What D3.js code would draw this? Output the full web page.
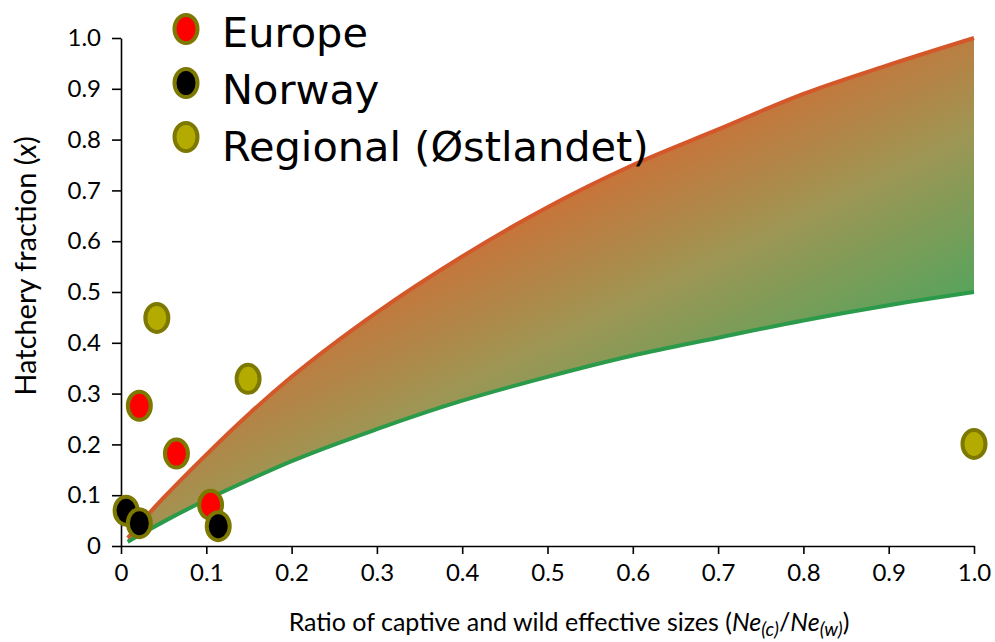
<!DOCTYPE html>
<html><head><meta charset="utf-8">
<script src="https://cdn.jsdelivr.net/npm/d3@7/dist/d3.min.js"></script>
<style>body{margin:0;background:#fff}svg{display:block}</style>
</head><body>
<svg id="c" width="995" height="642"></svg>
<script>
// ratio values sampled along the two boundary curves
const curveRatio = [0.008, 0.02, 0.05, 0.1, 0.15, 0.2, 0.3, 0.4, 0.5, 0.6, 0.7, 0.8, 0.9, 1.0];
const upperFraction = [0.016, 0.04, 0.095, 0.18, 0.26, 0.333, 0.46, 0.57, 0.667, 0.75, 0.82, 0.89, 0.947, 1.0];
const lowerFraction = [0.008, 0.02, 0.048, 0.091, 0.13, 0.167, 0.23, 0.286, 0.333, 0.375, 0.41, 0.444, 0.474, 0.5];

const groups = ["Europe", "Norway", "Regional (Østlandet)"];
const europeRatio = [0.0215, 0.065, 0.105];
const europeFraction = [0.276, 0.182, 0.081];
const norwayRatio = [0.006, 0.0215, 0.114];
const norwayFraction = [0.0695, 0.045, 0.039];
const regionalRatio = [0.042, 0.149, 1.0];
const regionalFraction = [0.449, 0.329, 0.201];

const xTicks = [0, 0.1, 0.2, 0.3, 0.4, 0.5, 0.6, 0.7, 0.8, 0.9, 1.0];
const yTicks = [0, 0.1, 0.2, 0.3, 0.4, 0.5, 0.6, 0.7, 0.8, 0.9, 1.0];
const xTickLabels = ["0", "0.1", "0.2", "0.3", "0.4", "0.5", "0.6", "0.7", "0.8", "0.9", "1.0"];
const yTickLabels = ["0", "0.1", "0.2", "0.3", "0.4", "0.5", "0.6", "0.7", "0.8", "0.9", "1.0"];

const svg = d3.select("#c");
const x = d3.scaleLinear().domain([0, 1]).range([121, 974]);
const y = d3.scaleLinear().domain([0, 1]).range([546, 38]);

const fills = {"Europe": "#ff0000", "Norway": "#000000", "Regional (Østlandet)": "#b4ab00"};
const ring = "#7d7800";
const tickFont = "Lato, 'Open Sans', sans-serif";

// gradient
const defs = svg.append("defs");
const grad = defs.append("linearGradient").attr("id", "band")
  .attr("gradientUnits", "userSpaceOnUse")
  .attr("x1", x(0.5)).attr("y1", y(0.78))
  .attr("x2", x(0.68)).attr("y2", y(0.17));
grad.append("stop").attr("offset", "0").attr("stop-color", "#d8662f");
grad.append("stop").attr("offset", "0.5").attr("stop-color", "#9e9654");
grad.append("stop").attr("offset", "1").attr("stop-color", "#4aa65e");

const pts = curveRatio.map((r, i) => ({r, u: upperFraction[i], l: lowerFraction[i]}));
const area = d3.area().x(d => x(d.r)).y0(d => y(d.l)).y1(d => y(d.u)).curve(d3.curveMonotoneX);
svg.append("path").datum(pts).attr("d", area).attr("fill", "url(#band)");
const lineU = d3.line().x(d => x(d.r)).y(d => y(d.u)).curve(d3.curveMonotoneX);
const lineL = d3.line().x(d => x(d.r)).y(d => y(d.l)).curve(d3.curveMonotoneX);
svg.append("path").datum(pts).attr("d", lineL).attr("fill", "none").attr("stroke", "#2b9a4a").attr("stroke-width", 4);
svg.append("path").datum(pts).attr("d", lineU).attr("fill", "none").attr("stroke", "#d4572a").attr("stroke-width", 4);

// axes
const yAxis = svg.append("g").attr("transform", `translate(${x(0)},0)`)
  .call(d3.axisLeft(y).tickValues(yTicks).tickFormat((d, i) => yTickLabels[i]).tickSize(9).tickSizeOuter(0).tickPadding(11));
const xAxis = svg.append("g").attr("transform", `translate(0,${y(0)})`)
  .call(d3.axisBottom(x).tickValues(xTicks).tickFormat((d, i) => xTickLabels[i]).tickSize(8).tickSizeOuter(0).tickPadding(10));
[yAxis, xAxis].forEach(g => {
  g.select(".domain").attr("stroke", "#000").attr("stroke-width", 1.6);
  g.selectAll(".tick line").attr("stroke", "#000").attr("stroke-width", 1.6);
  g.selectAll(".tick text").attr("font-family", tickFont).attr("font-size", 24).attr("fill", "#000");
});

// points
function drawGroup(name, rs, fs) {
  svg.append("g").selectAll("ellipse").data(rs.map((r, i) => ({r, f: fs[i]}))).join("ellipse")
    .attr("cx", d => x(d.r)).attr("cy", d => y(d.f)).attr("rx", 11.5).attr("ry", 14)
    .attr("fill", fills[name]).attr("stroke", ring).attr("stroke-width", 4);
}
drawGroup("Europe", europeRatio, europeFraction);
drawGroup("Norway", norwayRatio, norwayFraction);
drawGroup("Regional (Østlandet)", regionalRatio, regionalFraction);

// legend
const leg = svg.append("g");
groups.forEach((g, i) => {
  leg.append("ellipse").attr("cx", 186).attr("cy", 29 + i * 54).attr("rx", 11.5).attr("ry", 14)
    .attr("fill", fills[g]).attr("stroke", ring).attr("stroke-width", 4);
  leg.append("text").attr("x", 222).attr("y", 47 + i * 57).text(g)
    .attr("font-family", "'DejaVu Sans', sans-serif").attr("font-size", 41.5).attr("fill", "#000");
});

// axis titles
const xt = svg.append("text").attr("x", 569).attr("y", 631).attr("text-anchor", "middle")
  .attr("font-family", tickFont).attr("font-size", 25).attr("fill", "#000");
xt.append("tspan").text("Ratio of captive and wild effective sizes (");
xt.append("tspan").attr("font-style", "italic").text("Ne");
xt.append("tspan").attr("font-style", "italic").attr("font-size", 19).attr("dy", 5).text("(c)");
xt.append("tspan").attr("dy", -5).text("/");
xt.append("tspan").attr("font-style", "italic").text("Ne");
xt.append("tspan").attr("font-style", "italic").attr("font-size", 19).attr("dy", 5).text("(w)");
xt.append("tspan").attr("dy", -5).text(")");

const yt = svg.append("text").attr("transform", "translate(36,266) rotate(-90)").attr("text-anchor", "middle")
  .attr("font-family", tickFont).attr("font-size", 29).attr("fill", "#000");
yt.append("tspan").text("Hatchery fraction (");
yt.append("tspan").attr("font-style", "italic").text("x");
yt.append("tspan").text(")");
</script>
</body></html>
